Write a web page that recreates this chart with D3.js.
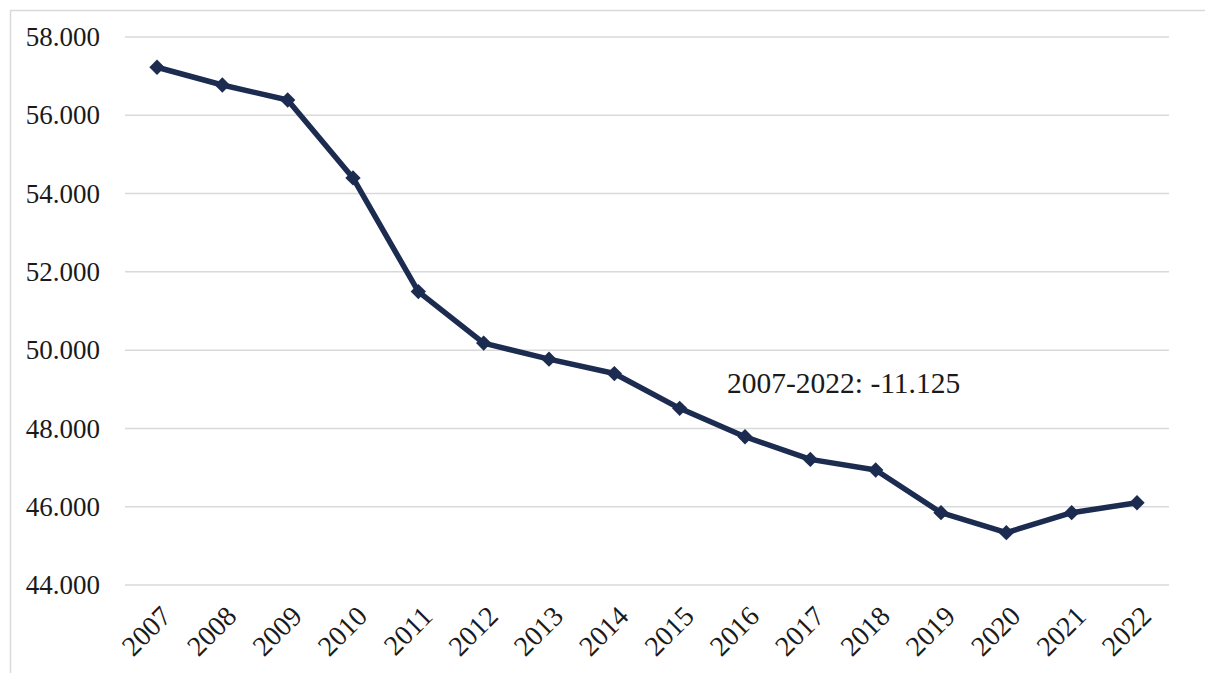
<!DOCTYPE html>
<html>
<head>
<meta charset="utf-8">
<script src="https://cdn.jsdelivr.net/npm/d3@7"></script>
<style>
  body { margin: 0; background: #fff; }
  svg text { font-family: "Liberation Serif", "DejaVu Serif", serif; fill: #1a1a1a; }
</style>
</head>
<body>
<svg id="chart" width="1205" height="673"></svg>
<script>
var years = [2007, 2008, 2009, 2010, 2011, 2012, 2013, 2014, 2015, 2016, 2017, 2018, 2019, 2020, 2021, 2022];
var values = [57227, 56774, 56391, 54399, 51495, 50180, 49769, 49402, 48513, 47787, 47209, 46937, 45847, 45337, 45847, 46102];
var yTicks = [44000, 46000, 48000, 50000, 52000, 54000, 56000, 58000];
var note = "2007-2022: -11.125";

var svg = d3.select("#chart"),
    margin = {top: 37, right: 36, bottom: 88, left: 125},
    width = +svg.attr("width"),
    height = +svg.attr("height");

// thousands with a dot, as in the source
var loc = d3.formatLocale({decimal: ",", thousands: ".", grouping: [3], currency: ["", ""]});
var fmt = loc.format(",.0f");

// frame of the chart area
svg.append("path")
    .attr("d", "M10.5," + height + "V10.5H" + width)
    .attr("fill", "none")
    .attr("stroke", "#d9d9d9")
    .attr("stroke-width", 1.5);

var x = d3.scalePoint()
    .domain(years)
    .range([157, 1137]);

var y = d3.scaleLinear()
    .domain([44000, 58000])
    .range([585, 37]);

// gridlines
svg.append("g")
    .selectAll("line")
    .data(yTicks)
    .enter().append("line")
    .attr("x1", margin.left)
    .attr("x2", width - margin.right)
    .attr("y1", function(d) { return y(d); })
    .attr("y2", function(d) { return y(d); })
    .attr("stroke", "#d9d9d9")
    .attr("stroke-width", 1.5);

// y labels
svg.append("g")
    .selectAll("text")
    .data(yTicks)
    .enter().append("text")
    .attr("x", 100)
    .attr("y", function(d) { return y(d); })
    .attr("dy", "0.34em")
    .attr("text-anchor", "end")
    .style("font-size", "27px")
    .text(function(d) { return fmt(d); });

// x labels, rotated
svg.append("g")
    .selectAll("text")
    .data(years)
    .enter().append("text")
    .attr("transform", function(d) { return "translate(" + (x(d) + 2) + ",604) rotate(-45)"; })
    .attr("text-anchor", "end")
    .attr("dy", "0.7em")
    .style("font-size", "28px")
    .text(function(d) { return d; });

var line = d3.line()
    .x(function(d, i) { return x(years[i]); })
    .y(function(d) { return y(d); });

svg.append("path")
    .datum(values)
    .attr("d", line)
    .attr("fill", "none")
    .attr("stroke", "#1c2b50")
    .attr("stroke-width", 5.5)
    .attr("stroke-linejoin", "round");

var diamond = d3.symbol().type(d3.symbolDiamond2).size(150);

svg.append("g")
    .selectAll("path")
    .data(values)
    .enter().append("path")
    .attr("d", diamond)
    .attr("transform", function(d, i) { return "translate(" + x(years[i]) + "," + y(d) + ")"; })
    .attr("fill", "#1c2b50");

svg.append("text")
    .attr("x", 727)
    .attr("y", 393)
    .style("font-size", "29.5px")
    .text(note);
</script>
</body>
</html>
